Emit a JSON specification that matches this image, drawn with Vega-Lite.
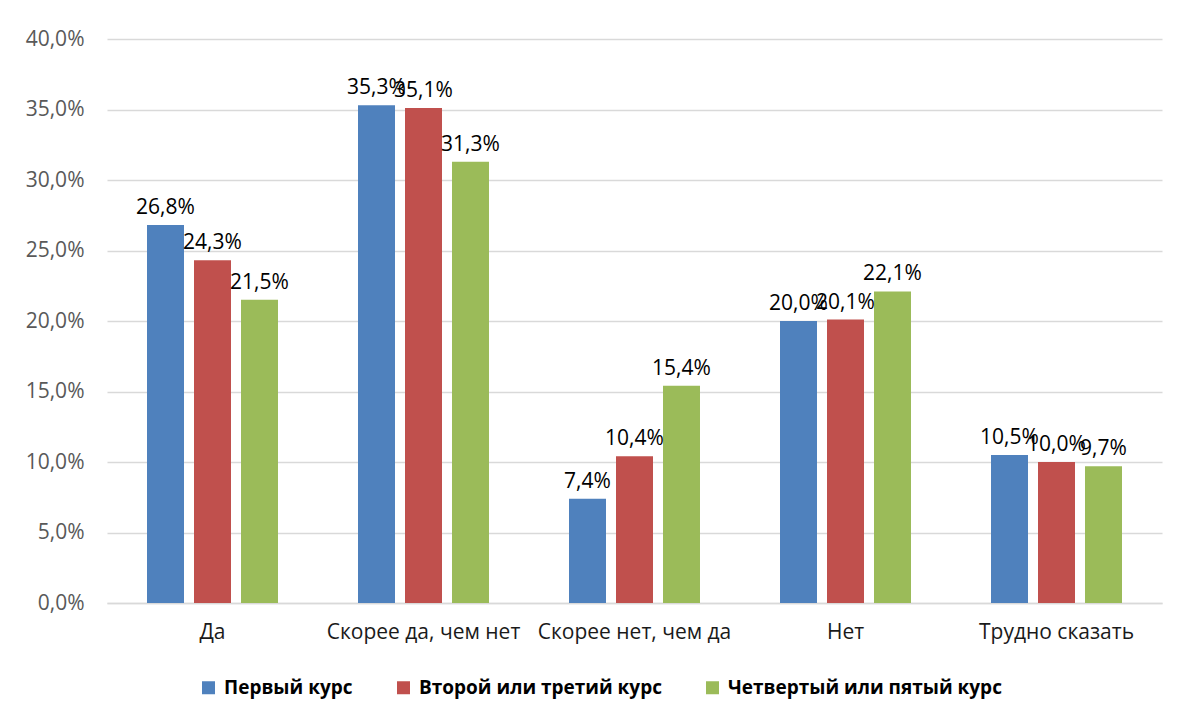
{
  "$schema": "https://vega.github.io/schema/vega-lite/v6.json",
  "width": 1055,
  "height": 564,
  "autosize": {"type": "none"},
  "padding": {"left": 107, "top": 39, "right": 16, "bottom": 115},
  "background": "white",
  "config": {
    "locale": {"number": {"decimal": ",", "thousands": " ", "grouping": [3], "currency": ["", ""]}},
    "view": {"stroke": null},
    "font": "Open Sans"
  },
  "data": {
    "values": [
      {"cat": "Да", "group": "Первый курс", "value": 0.268},
      {"cat": "Да", "group": "Второй или третий курс", "value": 0.243},
      {"cat": "Да", "group": "Четвертый или пятый курс", "value": 0.215},
      {"cat": "Скорее да, чем нет", "group": "Первый курс", "value": 0.353},
      {"cat": "Скорее да, чем нет", "group": "Второй или третий курс", "value": 0.351},
      {"cat": "Скорее да, чем нет", "group": "Четвертый или пятый курс", "value": 0.313},
      {"cat": "Скорее нет, чем да", "group": "Первый курс", "value": 0.074},
      {"cat": "Скорее нет, чем да", "group": "Второй или третий курс", "value": 0.104},
      {"cat": "Скорее нет, чем да", "group": "Четвертый или пятый курс", "value": 0.154},
      {"cat": "Нет", "group": "Первый курс", "value": 0.200},
      {"cat": "Нет", "group": "Второй или третий курс", "value": 0.201},
      {"cat": "Нет", "group": "Четвертый или пятый курс", "value": 0.221},
      {"cat": "Трудно сказать", "group": "Первый курс", "value": 0.105},
      {"cat": "Трудно сказать", "group": "Второй или третий курс", "value": 0.100},
      {"cat": "Трудно сказать", "group": "Четвертый или пятый курс", "value": 0.097}
    ]
  },
  "encoding": {
    "x": {
      "field": "cat", "type": "nominal", "sort": null,
      "scale": {"paddingInner": 0.3318, "paddingOuter": 0.1659},
      "axis": {
        "title": null, "labelAngle": 0, "ticks": false, "labelLimit": 400,
        "domainColor": "#d9d9d9", "domainWidth": 1.3,
        "labelFontSize": 21, "labelColor": "#1a1a1a", "labelPadding": 18
      }
    },
    "xOffset": {
      "field": "group", "type": "nominal", "sort": null,
      "scale": {"paddingInner": 0.2128, "paddingOuter": 0.1064}
    },
    "y": {
      "field": "value", "type": "quantitative",
      "scale": {"domain": [0, 0.4], "nice": false},
      "axis": {
        "title": null, "format": ".1%", "values": [0, 0.05, 0.1, 0.15, 0.2, 0.25, 0.3, 0.35, 0.4],
        "domain": false, "ticks": false, "gridColor": "#d9d9d9", "gridWidth": 1.3,
        "labelFontSize": 21, "labelColor": "#595959", "labelPadding": 23
      }
    }
  },
  "layer": [
    {
      "mark": {"type": "bar"},
      "encoding": {
        "color": {
          "field": "group", "type": "nominal", "sort": null,
          "scale": {
            "domain": ["Первый курс", "Второй или третий курс", "Четвертый или пятый курс"],
            "range": ["#4F81BD", "#C0504D", "#9BBB59"]
          },
          "legend": {
            "title": null, "orient": "none", "direction": "horizontal", "columns": 3,
            "legendX": 92, "legendY": 639,
            "symbolType": "square", "symbolSize": 169, "symbolStrokeWidth": 0,
            "labelFontSize": 19, "labelFontWeight": "bold", "labelColor": "#000000",
            "labelOffset": 6, "columnPadding": 41, "labelLimit": 500
          }
        }
      }
    },
    {
      "mark": {"type": "text", "baseline": "alphabetic", "dy": -11, "fontSize": 21, "color": "#000000"},
      "encoding": {
        "text": {"field": "value", "type": "quantitative", "format": ".1%"}
      }
    }
  ]
}
